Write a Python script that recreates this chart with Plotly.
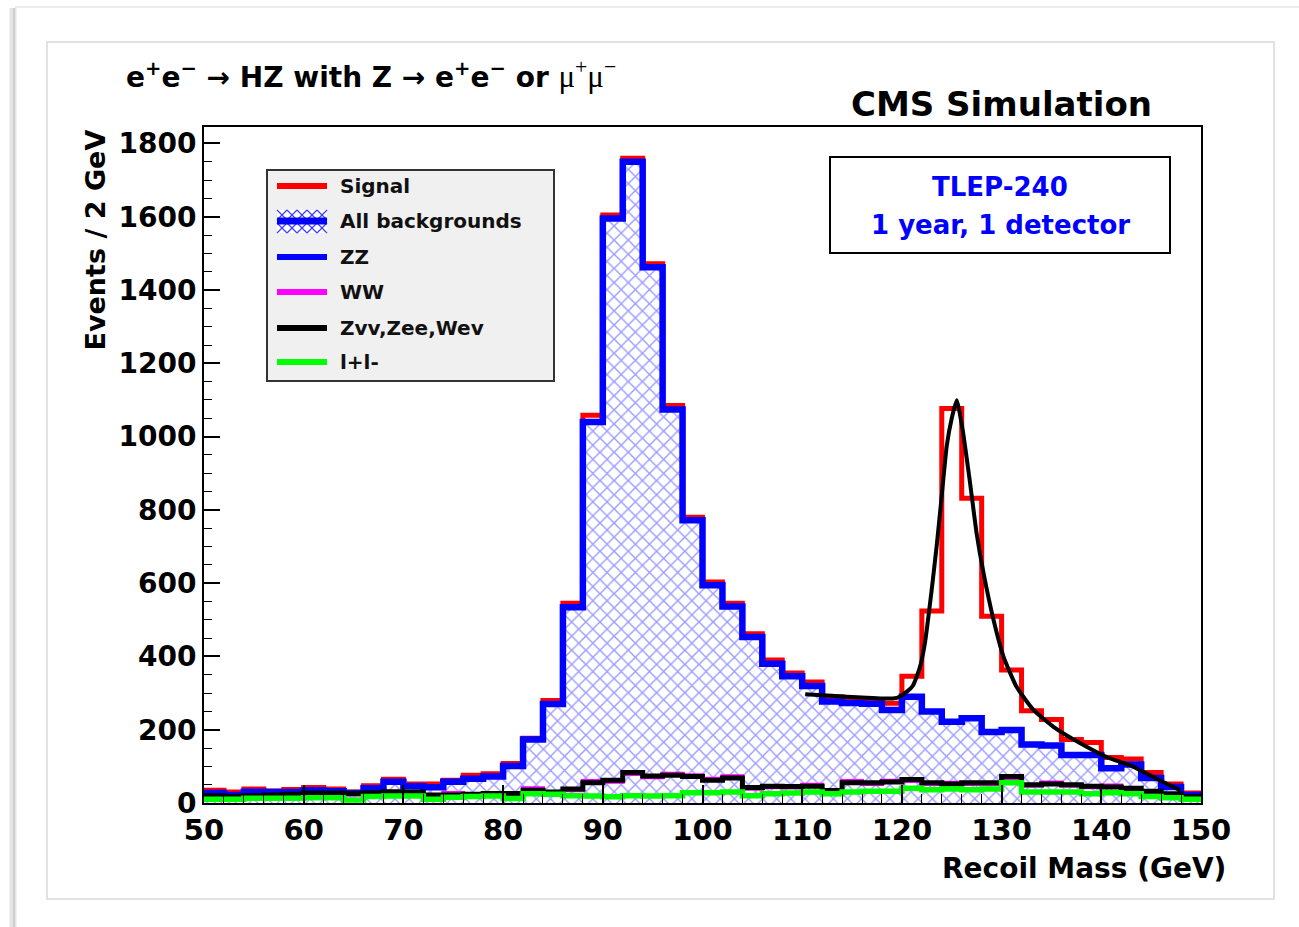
import plotly.graph_objects as go

# ---------------- data ----------------
bin_low = list(range(50, 150, 2))          # left edges of 2 GeV bins
bin_edges = bin_low + [150]

signal_total = [35, 30, 38, 33, 37, 42, 38, 30, 47, 65,
                52, 52, 62, 76, 80, 108, 177, 280, 545, 1058,
                1605, 1760, 1472, 1085, 780, 603, 545, 462, 390, 355,
                330, 290, 282, 280, 272, 346, 524, 1077, 832, 510,
                363, 252, 228, 173, 165, 124, 120, 83, 52, 27]

all_backgrounds = [27, 22, 31, 30, 30, 35, 32, 27, 40, 58,
                   46, 43, 58, 66, 72, 101, 173, 270, 534, 1040,
                   1595, 1750, 1462, 1074, 772, 594, 536, 453, 380, 346,
                   319, 277, 273, 271, 254, 290, 250, 222, 231, 194,
                   199, 160, 157, 131, 131, 95, 105, 68, 44, 22]

ww = [17, 15, 17, 19, 21, 24, 24, 23, 25, 28,
      27, 19, 27, 21, 23, 23, 40, 27, 35, 60,
      58, 79, 70, 80, 76, 66, 73, 39, 43, 42,
      50, 31, 60, 52, 61, 60, 52, 55, 52, 52,
      68, 47, 56, 47, 43, 48, 37, 29, 22, 15]

zvv_zee_wev = [20, 18, 20, 22, 24, 27, 27, 26, 28, 31,
               30, 22, 22, 24, 26, 26, 35, 30, 38, 55,
               62, 83, 74, 76, 72, 62, 68, 42, 46, 45,
               46, 34, 55, 55, 57, 64, 55, 52, 55, 55,
               72, 50, 52, 50, 46, 44, 40, 32, 25, 18]

l_plus_l_minus = [10, 10, 13, 13, 13, 14, 14, 8, 18, 19,
                  19, 10, 16, 18, 19, 12, 25, 24, 20, 19,
                  17, 20, 19, 20, 28, 28, 30, 20, 25, 27,
                  30, 25, 30, 32, 32, 40, 36, 38, 36, 38,
                  55, 30, 30, 30, 25, 28, 25, 18, 14, 10]

fit_mass = [110.3, 112, 114, 116, 118, 119.5, 120.5, 121.1, 121.8, 122.3,
            123.0, 123.5, 124.0, 124.5, 125.0, 125.5, 126.1, 126.8, 127.5, 128.2,
            129.2, 130.2, 131.5, 133.2, 135.2, 137.9, 140.5, 143.2, 145.5, 147.9]
fit_events = [297, 294, 291, 288, 285, 287, 304, 320, 370, 435,
              585, 705, 840, 975, 1050, 1099, 1017, 881, 735, 626,
              499, 399, 317, 254, 208, 163, 126, 99, 67, 35]

x_ticks = [50, 60, 70, 80, 90, 100, 110, 120, 130, 140, 150]
y_ticks = [0, 200, 400, 600, 800, 1000, 1200, 1400, 1600, 1800]

legend_labels = ["Signal", "All backgrounds", "ZZ", "WW", "Zvv,Zee,Wev", "l+l-"]
legend_colors = ["#ff0000", "#0000ff", "#0000ff", "#ff00ff", "#000000", "#00ff00"]

# ---------------- figure geometry (pixels) ----------------
W, H = 1299, 927
PL, PR, PT, PB = 204, 1201, 127, 803


def px(x):
    return (x - PL) / (PR - PL)


def py(y):
    return (PB - y) / (PB - PT)


def step_y(vals):
    return list(vals) + [vals[-1]]


FONT = "DejaVu Sans"

fig = go.Figure()

# signal + background (red)
fig.add_trace(go.Scatter(x=bin_edges, y=step_y(signal_total), mode="lines",
                         line=dict(color="#ff0000", width=5, shape="hv"),
                         hoverinfo="skip"))
# all backgrounds (blue, hatched)
fig.add_trace(go.Scatter(x=bin_edges, y=step_y(all_backgrounds), mode="lines",
                         line=dict(color="#0000ff", width=6.5, shape="hv"),
                         fill="tozeroy",
                         fillpattern=dict(shape="x", fgcolor="#3a3aff", bgcolor="white",
                                          size=10, solidity=0.27),
                         hoverinfo="skip"))
# WW
fig.add_trace(go.Scatter(x=bin_edges, y=step_y(ww), mode="lines",
                         line=dict(color="#ff00ff", width=4, shape="hv"),
                         hoverinfo="skip"))
# Zvv, Zee, Wev
fig.add_trace(go.Scatter(x=bin_edges, y=step_y(zvv_zee_wev), mode="lines",
                         line=dict(color="#000000", width=5, shape="hv"),
                         hoverinfo="skip"))
# l+l-
fig.add_trace(go.Scatter(x=bin_edges, y=step_y(l_plus_l_minus), mode="lines",
                         line=dict(color="#00ff00", width=5.5, shape="hv"),
                         hoverinfo="skip"))
# fit curve
fig.add_trace(go.Scatter(x=fit_mass, y=fit_events, mode="lines",
                         line=dict(color="#000000", width=4, shape="spline", smoothing=0.5),
                         hoverinfo="skip"))

axis_common = dict(showgrid=False, zeroline=False, showline=True, linecolor="black",
                   linewidth=2, mirror=True, ticks="inside", tickcolor="black",
                   tickwidth=1.5)

fig.update_xaxes(range=[50, 150], tickvals=x_ticks, ticklen=18,
                 minor=dict(dtick=2, ticks="inside", ticklen=9, tickcolor="black", tickwidth=1.2),
                 tickfont=dict(family=FONT, size=29, color="black", weight="bold"),
                 **axis_common)
fig.update_yaxes(range=[0, 1845], tickvals=y_ticks, ticklen=16,
                 minor=dict(dtick=50, ticks="inside", ticklen=8, tickcolor="black", tickwidth=1.2),
                 tickfont=dict(family=FONT, size=28, color="black", weight="bold"),
                 **axis_common)

shapes = []
# outer card decoration
shapes.append(dict(type="line", xref="paper", yref="paper", x0=px(13), x1=px(13), y0=py(8), y1=py(927),
                   line=dict(color="#e4e4e4", width=7), layer="below"))
shapes.append(dict(type="line", xref="paper", yref="paper", x0=px(14), x1=px(14), y0=py(8), y1=py(927),
                   line=dict(color="#cdcdcd", width=2), layer="below"))
shapes.append(dict(type="line", xref="paper", yref="paper", x0=px(15), x1=px(1299), y0=py(7), y1=py(7),
                   line=dict(color="#ececec", width=2), layer="below"))
shapes.append(dict(type="rect", xref="paper", yref="paper", x0=px(47), x1=px(1274), y0=py(42), y1=py(899),
                   line=dict(color="#d9d9d9", width=1.5), layer="below"))
# TLEP box
shapes.append(dict(type="rect", xref="paper", yref="paper", x0=px(830), x1=px(1170), y0=py(157), y1=py(253),
                   line=dict(color="black", width=2), fillcolor="white"))
# legend box
shapes.append(dict(type="rect", xref="paper", yref="paper", x0=px(267), x1=px(554), y0=py(170), y1=py(381),
                   line=dict(color="#333333", width=2), fillcolor="#f0f0f0"))

legend_y = [186, 221, 257, 292, 328, 362]
sx0, sx1 = 277, 327
hy0, hy1 = 210, 233
shapes.append(dict(type="rect", xref="paper", yref="paper", x0=px(sx0), x1=px(sx1), y0=py(hy0), y1=py(hy1),
                   line=dict(width=0), fillcolor="white"))
for i, (lab, col) in enumerate(zip(legend_labels, legend_colors)):
    if i == 1:
        continue
    shapes.append(dict(type="line", xref="paper", yref="paper", x0=px(sx0), x1=px(sx1),
                       y0=py(legend_y[i]), y1=py(legend_y[i]),
                       line=dict(color=col, width=6)))

# hatch sample for "All backgrounds"
for k in range(0, 5):
    a = sx0 + 10 * k
    for (xa, ya, xb, yb) in [(a, hy0, a + 10, hy0 + 10), (a + 10, hy0, a, hy0 + 10),
                             (a, hy1 - 10, a + 10, hy1), (a + 10, hy1 - 10, a, hy1)]:
        shapes.append(dict(type="line", xref="paper", yref="paper", x0=px(xa), x1=px(xb),
                           y0=py(ya), y1=py(yb), line=dict(color="#4040ff", width=1.2)))
shapes.append(dict(type="line", xref="paper", yref="paper", x0=px(sx0), x1=px(sx1),
                   y0=py(legend_y[1]), y1=py(legend_y[1]), line=dict(color="#0000ff", width=7)))

annotations = []
for i, lab in enumerate(legend_labels):
    annotations.append(dict(xref="paper", yref="paper", x=px(338), y=py(legend_y[i]),
                            xanchor="left", yanchor="middle", showarrow=False, text=lab,
                            font=dict(family=FONT, size=20, color="#111111", weight="bold")))

title_text = ("e<sup>+</sup>e<sup>−</sup> → HZ with Z → e<sup>+</sup>e<sup>−</sup> or "
              "<span style='font-family:Liberation Serif;font-weight:normal;font-size:31px'>"
              "μ<sup>+</sup>μ<sup>−</sup></span>")
annotations.append(dict(xref="paper", yref="paper", x=px(124), y=py(74), xanchor="left", yanchor="middle",
                        showarrow=False, text=title_text,
                        font=dict(family=FONT, size=28, color="black", weight="bold")))
annotations.append(dict(xref="paper", yref="paper", x=px(1001), y=py(104), xanchor="center", yanchor="middle",
                        showarrow=False, text="CMS Simulation",
                        font=dict(family=FONT, size=34, color="black", weight="bold")))
annotations.append(dict(xref="paper", yref="paper", x=px(1000), y=py(187), xanchor="center", yanchor="middle",
                        showarrow=False, text="TLEP-240",
                        font=dict(family=FONT, size=26, color="#0000ff", weight="bold")))
annotations.append(dict(xref="paper", yref="paper", x=px(1000), y=py(225), xanchor="center", yanchor="middle",
                        showarrow=False, text="1 year, 1 detector",
                        font=dict(family=FONT, size=26, color="#0000ff", weight="bold")))
annotations.append(dict(xref="paper", yref="paper", x=px(1228), y=py(868), xanchor="right", yanchor="middle",
                        showarrow=False, text="Recoil Mass (GeV)",
                        font=dict(family=FONT, size=28, color="black", weight="bold")))
annotations.append(dict(xref="paper", yref="paper", x=px(95), y=py(128), xanchor="center", yanchor="top",
                        showarrow=False, text="Events / 2 GeV", textangle=-90,
                        font=dict(family=FONT, size=27, color="black", weight="bold")))

fig.update_layout(width=W, height=H, margin=dict(l=PL, r=W - PR, t=PT, b=H - PB, pad=0),
                  paper_bgcolor="white", plot_bgcolor="white", showlegend=False,
                  shapes=shapes, annotations=annotations,
                  font=dict(family=FONT, color="black"))

fig.write_html("out.html")
